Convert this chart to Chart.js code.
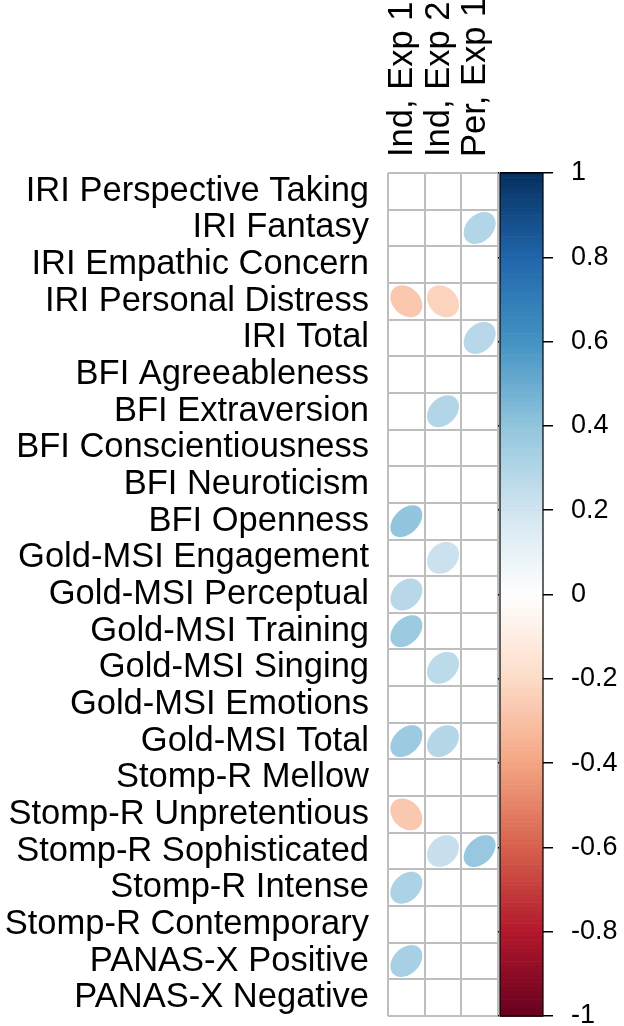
<!DOCTYPE html>
<html>
<head>
<meta charset="utf-8">
<script src="https://cdn.jsdelivr.net/npm/chart.js@4.4.1/dist/chart.umd.min.js"></script>
<style>
  html, body { margin: 0; padding: 0; background: #fff; }
  canvas { display: block; }
</style>
</head>
<body>
<canvas id="corr" width="624" height="1026"></canvas>
<script>
// rows of the correlation matrix (top to bottom)
const measures = [
  'IRI Perspective Taking', 'IRI Fantasy', 'IRI Empathic Concern', 'IRI Personal Distress',
  'IRI Total', 'BFI Agreeableness', 'BFI Extraversion', 'BFI Conscientiousness',
  'BFI Neuroticism', 'BFI Openness', 'Gold-MSI Engagement', 'Gold-MSI Perceptual',
  'Gold-MSI Training', 'Gold-MSI Singing', 'Gold-MSI Emotions', 'Gold-MSI Total',
  'Stomp-R Mellow', 'Stomp-R Unpretentious', 'Stomp-R Sophisticated', 'Stomp-R Intense',
  'Stomp-R Contemporary', 'PANAS-X Positive', 'PANAS-X Negative'
];
const conditions = ['Ind, Exp 1', 'Ind, Exp 2', 'Per, Exp 1'];

// correlations per column, null = not significant (blank cell)
const indExp1 = [null, null, null, -0.27, null, null, null, null, null, 0.40, null, 0.28,
                 0.37, null, null, 0.37, null, -0.27, null, 0.32, null, 0.33, null];
const indExp2 = [null, null, null, -0.23, null, null, 0.30, null, null, null, 0.22, null,
                 null, 0.27, null, 0.29, null, null, 0.23, null, null, null, null];
const perExp1 = [null, 0.30, null, null, 0.28, null, null, null, null, null, null, null,
                 null, null, null, null, null, null, 0.38, null, null, null, null];

const legendTicks = [-1, -0.8, -0.6, -0.4, -0.2, 0, 0.2, 0.4, 0.6, 0.8, 1];

// RdBu palette as used by corrplot
const rdBu = ['#67001F', '#B2182B', '#D6604D', '#F4A582', '#FDDBC7', '#FFFFFF',
              '#D1E5F0', '#92C5DE', '#4393C3', '#2166AC', '#053061'];

function hexRgb(h) {
  return [1, 3, 5].map(i => parseInt(h.substr(i, 2), 16));
}
function corrColor(v) {
  const pos = Math.max(0, Math.min(10, (v + 1) / 2 * 10));
  const i = Math.min(9, Math.floor(pos));
  const f = pos - i;
  const a = hexRgb(rdBu[i]), b = hexRgb(rdBu[i + 1]);
  const c = a.map((x, k) => Math.round(x + (b[k] - x) * f));
  return 'rgb(' + c.join(',') + ')';
}

function toPoints(col, values) {
  const pts = [];
  values.forEach((v, i) => {
    if (v !== null) pts.push({ x: col, y: measures[i], r: v });
  });
  return pts;
}

const FONT = '"Liberation Sans", Arial, Helvetica, sans-serif';
const GRID = '#bebebe';

const ellipsePlugin = {
  id: 'ellipses',
  afterDatasetsDraw(chart) {
    const ctx = chart.ctx;
    const cw = chart.scales.x.width / conditions.length;
    const ch = chart.scales.y.height / measures.length;
    chart.data.datasets.forEach((ds, di) => {
      const meta = chart.getDatasetMeta(di);
      meta.data.forEach((pt, i) => {
        const r = ds.data[i].r;
        const d = Math.acos(r);
        ctx.save();
        ctx.beginPath();
        for (let k = 0; k <= 98; k++) {
          const t = 2 * Math.PI * k / 98;
          const ex = pt.x + Math.cos(t + d / 2) / 2 * 0.87 * cw;
          const ey = pt.y - Math.cos(t - d / 2) / 2 * 0.87 * ch;
          if (k === 0) ctx.moveTo(ex, ey); else ctx.lineTo(ex, ey);
        }
        ctx.closePath();
        ctx.fillStyle = corrColor(r);
        ctx.fill();
        ctx.restore();
      });
    });
  }
};

const colorBarPlugin = {
  id: 'colorbar',
  afterDraw(chart) {
    const ctx = chart.ctx;
    const s = chart.scales.yBar;
    const ca = chart.chartArea;
    const x0 = ca.right + 2, x1 = ca.right + 45;
    ctx.save();
    ctx.fillStyle = '#fff';
    ctx.fillRect(ca.right + 1, s.top - 2, x0 - ca.right - 1, s.bottom - s.top + 4);
    const n = 200;
    for (let i = 0; i < n; i++) {
      const v0 = -1 + 2 * i / n, v1 = -1 + 2 * (i + 1) / n;
      const yTop = s.getPixelForValue(v1), yBot = s.getPixelForValue(v0);
      ctx.fillStyle = corrColor((v0 + v1) / 2);
      ctx.fillRect(x0, yTop, x1 - x0, yBot - yTop + 0.6);
    }
    ctx.strokeStyle = '#000';
    ctx.lineWidth = 1.2;
    ctx.strokeRect(x0, s.getPixelForValue(1), x1 - x0, s.getPixelForValue(-1) - s.getPixelForValue(1));
    ctx.restore();
  }
};

new Chart(document.getElementById('corr'), {
  type: 'scatter',
  data: {
    datasets: [
      { label: conditions[0], data: toPoints(conditions[0], indExp1) },
      { label: conditions[1], data: toPoints(conditions[1], indExp2) },
      { label: conditions[2], data: toPoints(conditions[2], perExp1) }
    ]
  },
  options: {
    responsive: false,
    animation: false,
    events: [],
    devicePixelRatio: 1,
    layout: { padding: { top: 0, right: 0, bottom: 10, left: 0 } },
    elements: { point: { radius: 0, hoverRadius: 0 } },
    plugins: { legend: { display: false }, tooltip: { enabled: false } },
    scales: {
      x: {
        type: 'category',
        labels: conditions,
        position: 'top',
        offset: true,
        grid: { offset: true, color: GRID, lineWidth: 2, drawTicks: false },
        border: { display: false },
        ticks: {
          autoSkip: false, minRotation: 90, maxRotation: 90, labelOffset: 37.5,
          color: '#000', padding: 16, font: { family: FONT, size: 34.5 }
        },
        afterFit(s) { s.height = 173; s.paddingLeft = 0; s.paddingRight = 0; }
      },
      y: {
        type: 'category',
        labels: measures,
        position: 'left',
        offset: true,
        grid: { offset: true, color: GRID, lineWidth: 2, drawTicks: false },
        border: { display: false },
        ticks: { autoSkip: false, color: '#000', padding: 19, font: { family: FONT, size: 34.5 } },
        afterFit(s) { s.width = 388; s.paddingTop = 0; s.paddingBottom = 0; }
      },
      yBar: {
        type: 'linear',
        position: 'right',
        min: -1,
        max: 1,
        grid: { drawOnChartArea: false, drawTicks: true, tickLength: 55, color: '#000', lineWidth: 1.5 },
        border: { display: false },
        afterBuildTicks(s) { s.ticks = legendTicks.map(v => ({ value: v })); },
        ticks: {
          color: '#000', padding: 18, font: { family: FONT, size: 27 },
          callback: v => String(Math.round(v * 10) / 10)
        },
        afterFit(s) { s.width = 126; s.paddingTop = 0; s.paddingBottom = 0; }
      }
    }
  },
  plugins: [ellipsePlugin, colorBarPlugin]
});
</script>
</body>
</html>
